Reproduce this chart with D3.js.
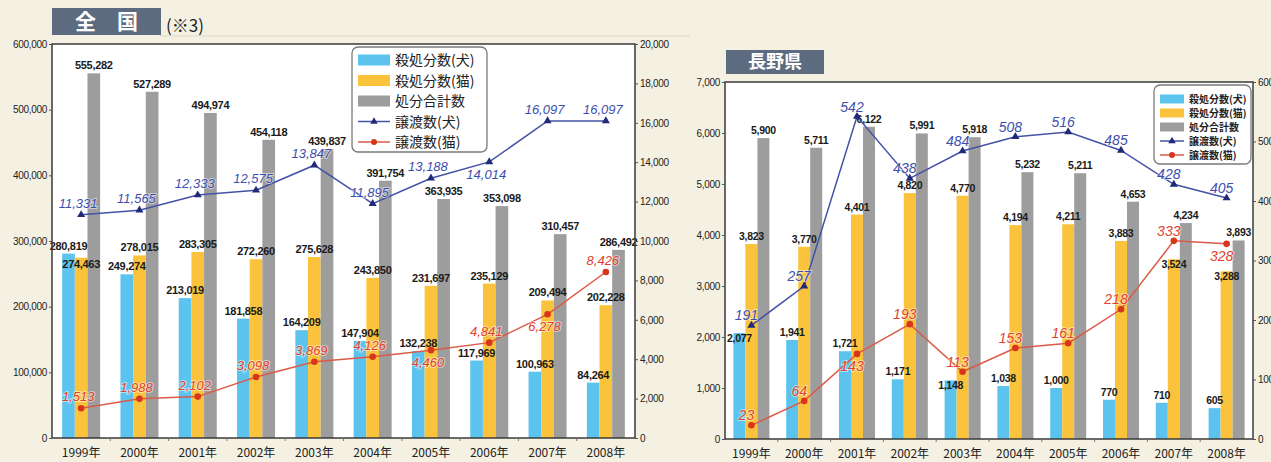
<!DOCTYPE html>
<html>
<head>
<meta charset="utf-8">
<script src="https://cdn.jsdelivr.net/npm/d3@7"></script>
<style>
  body { margin: 0; background: #f4f1e3; }
  svg { display: block; }
  text { font-family: "Liberation Sans", Arial, sans-serif; }
  .jp { font-family: "Noto Sans CJK JP", "Noto Sans", sans-serif; }
</style>
</head>
<body>
<svg id="chart" width="1271" height="462"></svg>
<script>
// years on the x axis
const years = ['1999年', '2000年', '2001年', '2002年', '2003年', '2004年', '2005年', '2006年', '2007年', '2008年'];

// 全国 (nationwide)
const zenkokuDogKill  = [280819, 249274, 213019, 181858, 164209, 147904, 132238, 117969, 100963, 84264];
const zenkokuCatKill  = [274463, 278015, 283305, 272260, 275628, 243850, 231697, 235129, 209494, 202228];
const zenkokuTotal    = [555282, 527289, 494974, 454118, 439837, 391754, 363935, 353098, 310457, 286492];
const zenkokuDogGiven = [11331, 11565, 12333, 12575, 13847, 11895, 13188, 14014, 16097, 16097];
const zenkokuCatGiven = [1513, 1988, 2102, 3098, 3869, 4126, 4460, 4841, 6278, 8426];

// 長野県 (Nagano)
const naganoDogKill  = [2077, 1941, 1721, 1171, 1148, 1038, 1000, 770, 710, 605];
const naganoCatKill  = [3823, 3770, 4401, 4820, 4770, 4194, 4211, 3883, 3524, 3288];
const naganoTotal    = [5900, 5711, 6122, 5991, 5918, 5232, 5211, 4653, 4234, 3893];
const naganoDogGiven = [191, 257, 542, 438, 484, 508, 516, 485, 428, 405];
const naganoCatGiven = [23, 64, 143, 193, 113, 153, 161, 218, 333, 328];

// legend labels
const legendNames = ['殺処分数(犬)', '殺処分数(猫)', '処分合計数', '譲渡数(犬)', '譲渡数(猫)'];

const colors = { dog: '#5cc3ef', cat: '#fbc33c', total: '#9d9d9d', dogLine: '#4352a6', catLine: '#dc5a48' };

const svg = d3.select('#chart');

// faint rule behind the titles
svg.append('line').attr('x1', 160).attr('x2', 690).attr('y1', 36).attr('y2', 36)
  .attr('stroke', '#ddd9c7').attr('stroke-width', 1);

function drawPanel(o) {
  const g = svg.append('g');

  const x = d3.scaleBand().domain(years).range([o.left, o.right]);
  const yL = d3.scaleLinear().domain([0, o.leftMax]).range([o.bottom, o.top]);
  const yR = d3.scaleLinear().domain([0, o.rightMax]).range([o.bottom, o.top]);
  const inner = d3.scaleBand().domain(['dog', 'cat', 'total']).range([-o.group / 2, o.group / 2]);
  const cx = i => x(years[i]) + x.bandwidth() / 2;

  // title box
  g.append('rect').attr('x', o.title.x).attr('y', o.title.y).attr('width', o.title.w).attr('height', o.title.h)
    .attr('fill', '#5d6b80');
  g.append('text').attr('class', 'jp')
    .attr('x', o.title.x + o.title.w / 2).attr('y', o.title.y + o.title.h / 2)
    .attr('dy', '0.36em').attr('text-anchor', 'middle')
    .attr('fill', '#fff').attr('font-weight', 'bold').attr('font-size', o.title.size)
    .text(o.title.text);

  // plot background
  g.append('rect').attr('x', o.left).attr('y', o.top)
    .attr('width', o.right - o.left).attr('height', o.bottom - o.top).attr('fill', '#fff');

  // bars
  const series = [
    { key: 'dog', vals: o.dogKill, inside: o.dogInside },
    { key: 'cat', vals: o.catKill, inside: o.catInside },
    { key: 'total', vals: o.total, inside: [] }
  ];
  series.forEach(s => {
    g.append('g').selectAll('rect').data(s.vals).join('rect')
      .attr('x', (d, i) => cx(i) + inner(s.key))
      .attr('y', d => yL(d))
      .attr('width', inner.bandwidth())
      .attr('height', d => o.bottom - yL(d))
      .attr('fill', colors[s.key]);
  });

  // bar value labels
  const fmt = d3.format(',');
  series.forEach(s => {
    g.append('g').selectAll('text').data(s.vals).join('text')
      .attr('x', (d, i) => cx(i) + inner(s.key) + inner.bandwidth() / 2)
      .attr('y', (d, i) => {
        // push the cat label inside the bar when it would sit on the dog label
        if (s.key === 'cat' && Math.abs(yL(d) - yL(o.dogKill[i])) < 10) return yL(d) + 10;
        if (s.inside.includes(i)) return yL(d) + 9;
        return yL(d) - 4;
      })
      .attr('text-anchor', 'middle')
      .attr('font-size', o.barFont).attr('font-weight', 'bold').attr('fill', '#1a1a1a')
      .attr('letter-spacing', -0.3)
      .text(d => fmt(d));
  });

  // frame
  g.append('rect').attr('x', o.left).attr('y', o.top)
    .attr('width', o.right - o.left).attr('height', o.bottom - o.top)
    .attr('fill', 'none').attr('stroke', '#3a3a3a').attr('stroke-width', 1.5);

  // axes
  const styleAxis = a => {
    a.select('.domain').remove();
    a.selectAll('line').attr('stroke', '#555');
    a.selectAll('text').attr('font-size', o.axisFont).attr('fill', '#222').attr('letter-spacing', -0.3);
  };
  g.append('g').attr('transform', `translate(${o.left},0)`)
    .call(d3.axisLeft(yL).tickValues(d3.range(0, o.leftMax + 1, o.leftStep)).tickSize(3).tickPadding(2).tickFormat(fmt))
    .call(styleAxis);
  g.append('g').attr('transform', `translate(${o.right},0)`)
    .call(d3.axisRight(yR).tickValues(d3.range(0, o.rightMax + 1, o.rightStep)).tickSize(3).tickPadding(2).tickFormat(fmt))
    .call(styleAxis);

  // x axis: boundary ticks and year labels
  g.append('g').selectAll('line').data(years.slice(1)).join('line')
    .attr('x1', d => x(d)).attr('x2', d => x(d))
    .attr('y1', o.bottom).attr('y2', o.bottom + 3).attr('stroke', '#777');
  g.append('g').selectAll('text').data(years).join('text')
    .attr('class', 'jp')
    .attr('x', (d, i) => cx(i)).attr('y', o.bottom + 19)
    .attr('text-anchor', 'middle').attr('font-size', 12).attr('fill', '#222')
    .text(d => d);

  // lines
  const lines = [
    { vals: o.dogGiven, color: colors.dogLine, marker: 'tri', below: o.dogBelow, labelColor: '#3d4fae' },
    { vals: o.catGiven, color: colors.catLine, marker: 'dot', below: o.catBelow, labelColor: '#e2412e' }
  ];
  lines.forEach(l => {
    const line = d3.line().x((d, i) => cx(i)).y(d => yR(d));
    g.append('path').datum(l.vals).attr('d', line)
      .attr('fill', 'none').attr('stroke', l.color).attr('stroke-width', 1.5);
    if (l.marker === 'tri') {
      g.append('g').selectAll('path').data(l.vals).join('path')
        .attr('d', d3.symbol(d3.symbolTriangle, 28))
        .attr('transform', (d, i) => `translate(${cx(i)},${yR(d)})`)
        .attr('fill', '#1f2a78');
    } else {
      g.append('g').selectAll('circle').data(l.vals).join('circle')
        .attr('cx', (d, i) => cx(i)).attr('cy', d => yR(d)).attr('r', 3.3)
        .attr('fill', '#d8361c');
    }
    g.append('g').selectAll('text').data(l.vals).join('text')
      .attr('x', (d, i) => cx(i) + o.lineDx)
      .attr('y', (d, i) => l.below.includes(i) ? yR(d) + 17 : yR(d) - o.lineAbove)
      .attr('text-anchor', 'middle')
      .attr('font-size', o.lineFont).attr('font-style', 'italic').attr('fill', l.labelColor)
      .attr('stroke', '#fff').attr('stroke-width', 2).attr('stroke-opacity', 0.5)
      .attr('paint-order', 'stroke')
      .text(d => fmt(d));
  });

  // legend
  const L = o.legend;
  const lg = g.append('g');
  lg.append('rect').attr('x', L.x).attr('y', L.y).attr('width', L.w).attr('height', L.h)
    .attr('rx', 6).attr('fill', '#fff').attr('stroke', '#7a7a7a').attr('stroke-width', 1.3);
  const keys = ['dog', 'cat', 'total', 'dogLine', 'catLine'];
  keys.forEach((k, i) => {
    const yy = L.y + L.first + i * L.step;
    const sx = L.x + 6;
    if (i < 3) {
      lg.append('rect').attr('x', sx).attr('y', yy - L.sh / 2).attr('width', L.sw).attr('height', L.sh)
        .attr('fill', colors[k]);
    } else {
      lg.append('line').attr('x1', sx).attr('x2', sx + L.sw).attr('y1', yy).attr('y2', yy)
        .attr('stroke', colors[k]).attr('stroke-width', 1.5);
      if (k === 'dogLine') {
        lg.append('path').attr('d', d3.symbol(d3.symbolTriangle, 24))
          .attr('transform', `translate(${sx + L.sw / 2},${yy})`).attr('fill', '#1f2a78');
      } else {
        lg.append('circle').attr('cx', sx + L.sw / 2).attr('cy', yy).attr('r', 3).attr('fill', '#d8361c');
      }
    }
    lg.append('text').attr('class', 'jp')
      .attr('x', sx + L.sw + 5).attr('y', yy).attr('dy', '0.36em')
      .attr('font-size', L.font).attr('font-weight', L.weight).attr('fill', '#222')
      .text(legendNames[i]);
  });
}

drawPanel({
  left: 52, right: 635, top: 44, bottom: 438,
  leftMax: 600000, leftStep: 100000, rightMax: 20000, rightStep: 2000,
  group: 38, barFont: 11, axisFont: 10, lineFont: 13, lineDx: -3, lineAbove: 7,
  dogKill: zenkokuDogKill, catKill: zenkokuCatKill, total: zenkokuTotal,
  dogGiven: zenkokuDogGiven, catGiven: zenkokuCatGiven,
  dogBelow: [7], catBelow: [6, 8], dogInside: [], catInside: [],
  title: { x: 52, y: 8, w: 109, h: 27, size: 21, text: '全　国' },
  legend: { x: 352, y: 47, w: 135, h: 105, first: 13, step: 20.5, sw: 32, sh: 11, font: 14, weight: 'normal' }
});

drawPanel({
  left: 725, right: 1253, top: 82, bottom: 439,
  leftMax: 7000, leftStep: 1000, rightMax: 600, rightStep: 100,
  group: 36, barFont: 10.5, axisFont: 10, lineFont: 14, lineDx: -5, lineAbove: 5,
  dogKill: naganoDogKill, catKill: naganoCatKill, total: naganoTotal,
  dogGiven: naganoDogGiven, catGiven: naganoCatGiven,
  dogBelow: [], catBelow: [2, 9], dogInside: [0, 4], catInside: [8, 9],
  title: { x: 726, y: 50, w: 98, h: 24, size: 18, text: '長野県' },
  legend: { x: 1154, y: 85, w: 97, h: 79, first: 14, step: 14, sw: 24, sh: 9, font: 10, weight: 'bold' }
});

// note next to the nationwide title
svg.append('text').attr('class', 'jp').attr('x', 166).attr('y', 32)
  .attr('font-size', 17).attr('fill', '#222').text('(※3)');
</script>
</body>
</html>
